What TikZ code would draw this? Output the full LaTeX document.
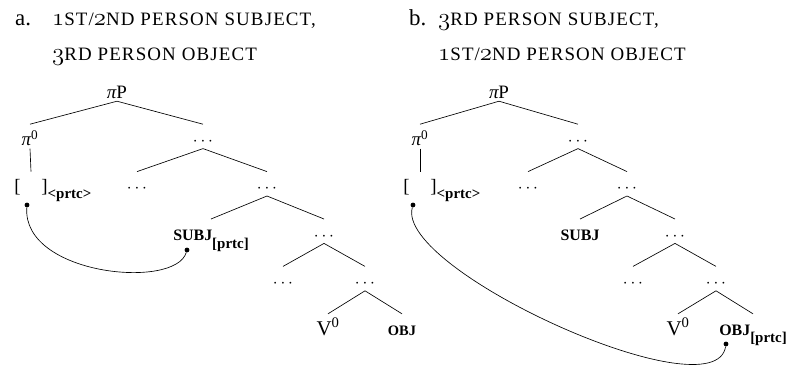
\documentclass[tikz,border=0pt]{standalone}
\usepackage{fontspec}
\setmainfont{Liberation Serif}
\usetikzlibrary{positioning}

% old-style figures for the small-cap headings
\newcommand{\osnum}[1]{{\fontsize{26}{26}\usefont{OML}{cmm}{m}{it}#1}}
\newcommand{\prtcsub}[2]{\raisebox{-#1}{\fontsize{15}{16}\selectfont\bfseries #2}}
\newcommand{\pisym}{{\itshape π}}

\tikzset{
    headmark/.style={anchor=base west, inner sep=0pt, font=\fontsize{23}{25}\selectfont},
    headline/.style={anchor=base west, inner sep=0pt,
        font=\fontsize{19}{21}\selectfont\addfontfeatures{LetterSpace=6}},
    cat/.style={
        anchor=base, inner sep=2bp, text height=19bp, text depth=1bp,
        font=\fontsize{19}{21}\selectfont
    },
    bigcat/.style={cat, font=\fontsize{21}{23}\selectfont},
    term/.style={cat, font=\fontsize{16}{18}\selectfont\bfseries},
    dotsnode/.style={cat},
    branch/.style={draw=black, line width=0.65bp},
    linkdot/.style={circle, fill=black, inner sep=0pt, minimum size=4.8bp},
    agree/.style={draw=black, line width=0.65bp}
}

\begin{document}
\begin{tikzpicture}[x=1bp, y=-1bp]
\useasboundingbox (0,0) rectangle (795,367);

% Headings
\node[headmark] (markA) at (15,25) {a.};
\node[headline] (headA1) at (52,25) {\osnum{1}ST/\osnum{2}ND PERSON SUBJECT,};
\node[headline] (headA2) at (52,60) {\osnum{3}RD PERSON OBJECT};
\node[headmark] (markB) at (409,25) {b.};
\node[headline] (headB1) at (438,25) {\osnum{3}RD PERSON SUBJECT,};
\node[headline] (headB2) at (438,60) {\osnum{1}ST/\osnum{2}ND PERSON OBJECT};

% Tree a
\node[cat] (piPa) at (117,98) {\pisym P};
\node[cat] (piZa) at (30,145.4) {\pisym\textsuperscript{0}};
\node[dotsnode] (dA1) at (203,145.4) {$\cdots$};
\node[cat] (slotA) at (31,192.8) {[\hspace{1.1em}]\rlap{\prtcsub{6bp}{<prtc>}}};
\node[dotsnode] (dA2) at (137,192.8) {$\cdots$};
\node[dotsnode] (dA3) at (267,192.8) {$\cdots$};
\node[term] (subjA) at (211,240.2) {SUBJ\prtcsub{8bp}{[prtc]}};
\node[dotsnode] (dA4) at (324,240.2) {$\cdots$};
\node[dotsnode] (dA5) at (283,287.6) {$\cdots$};
\node[dotsnode] (dA6) at (365,287.6) {$\cdots$};
\node[bigcat] (verbA) at (328,335) {V\textsuperscript{0}};
\node[term, font=\fontsize{14.5}{16}\selectfont\bfseries] (objA) at (402,335) {OBJ};

\draw[branch] (piPa.south) -- (piZa.north);
\draw[branch] (piPa.south) -- (dA1.north);
\draw[branch] (piZa.south) -- (slotA.north);
\draw[branch] (dA1.south) -- (dA2.north);
\draw[branch] (dA1.south) -- (dA3.north);
\draw[branch] (dA3.south) -- (subjA.north);
\draw[branch] (dA3.south) -- (dA4.north);
\draw[branch] (dA4.south) -- (dA5.north);
\draw[branch] (dA4.south) -- (dA6.north);
\draw[branch] (dA6.south) -- (verbA.north);
\draw[branch] (dA6.south) -- (objA.north);

\node[linkdot] (probeA) at (27,205) {};
\node[linkdot] (goalA) at (187,250) {};
\draw[agree] (probeA) .. controls (22,275) and (175,290) .. (goalA);

% Tree b
\node[cat] (piPb) at (499,98) {\pisym P};
\node[cat] (piZb) at (420,145.4) {\pisym\textsuperscript{0}};
\node[dotsnode] (dB1) at (578,145.4) {$\cdots$};
\node[cat] (slotB) at (420,192.8) {[\hspace{1.1em}]\rlap{\prtcsub{6bp}{<prtc>}}};
\node[dotsnode] (dB2) at (528,192.8) {$\cdots$};
\node[dotsnode] (dB3) at (627,192.8) {$\cdots$};
\node[term] (subjB) at (580,240.2) {SUBJ};
\node[dotsnode] (dB4) at (675,240.2) {$\cdots$};
\node[dotsnode] (dB5) at (633,287.6) {$\cdots$};
\node[dotsnode] (dB6) at (716,287.6) {$\cdots$};
\node[bigcat] (verbB) at (678,335) {V\textsuperscript{0}};
\node[term] (objB) at (753,335) {OBJ\prtcsub{7bp}{[prtc]}};

\draw[branch] (piPb.south) -- (piZb.north);
\draw[branch] (piPb.south) -- (dB1.north);
\draw[branch] (piZb.south) -- (slotB.north);
\draw[branch] (dB1.south) -- (dB2.north);
\draw[branch] (dB1.south) -- (dB3.north);
\draw[branch] (dB3.south) -- (subjB.north);
\draw[branch] (dB3.south) -- (dB4.north);
\draw[branch] (dB4.south) -- (dB5.north);
\draw[branch] (dB4.south) -- (dB6.north);
\draw[branch] (dB6.south) -- (verbB.north);
\draw[branch] (dB6.south) -- (objB.north);

\node[linkdot] (probeB) at (413,205) {};
\node[linkdot] (goalB) at (726,344) {};
\draw[agree] (probeB) .. controls (395,270) and (715,415) .. (goalB);

\end{tikzpicture}
\end{document}
